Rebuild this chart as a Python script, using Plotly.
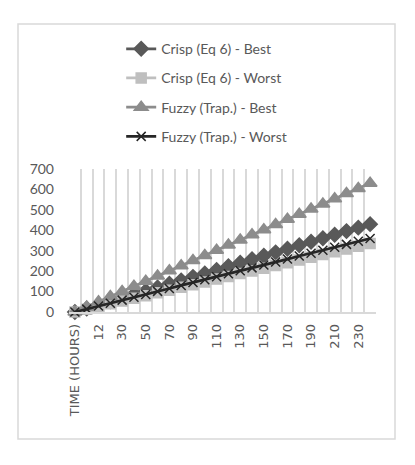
import plotly.graph_objects as go

# category labels (first cell is the header that Excel picked up)
hours = ["TIME (HOURS)", "6", "12", "20", "30", "40", "50", "60", "70", "80", "90",
         "100", "110", "120", "130", "140", "150", "160", "170", "180", "190",
         "200", "210", "220", "230", "240"]

crisp_best = [0, 17, 34, 52, 69, 86, 103, 120, 138, 155, 172, 189, 206, 224, 241,
              258, 275, 292, 310, 327, 344, 361, 378, 396, 413, 430]
crisp_worst = [0, 13, 27, 40, 54, 67, 80, 94, 107, 121, 134, 147, 161, 174, 188,
               201, 214, 228, 241, 255, 268, 281, 295, 308, 322, 335]
fuzzy_best = [0, 25, 50, 76, 101, 126, 151, 176, 202, 227, 252, 277, 302, 328, 353,
              378, 403, 428, 454, 479, 504, 529, 554, 580, 605, 630]
fuzzy_worst = [0, 14, 29, 43, 58, 72, 86, 101, 115, 130, 144, 158, 173, 187, 202,
               216, 230, 245, 259, 274, 288, 302, 317, 331, 346, 360]

series = [
    ("Crisp (Eq 6) - Best", crisp_best, "#595959", "diamond", 11),
    ("Crisp (Eq 6) - Worst", crisp_worst, "#bfbfbf", "square", 10),
    ("Fuzzy (Trap.) - Best", fuzzy_best, "#8c8c8c", "triangle-up", 12),
    ("Fuzzy (Trap.) - Worst", fuzzy_worst, "#262626", "x-thin", 9),
]

fig = go.Figure()
for i, (name, vals, col, sym, size) in enumerate(series):
    fig.add_trace(go.Scatter(
        x=hours, y=vals, name=name, mode="lines+markers", legendgroup=str(i),
        line=dict(color=col, width=2.75),
        marker=dict(symbol=sym, size=size, color=col, line=dict(color=col, width=1.5)),
        cliponaxis=False,
    ))

tick_text = [h if i % 2 == 0 else "" for i, h in enumerate(hours)]

fig.update_layout(
    width=415, height=465,
    margin=dict(l=69, r=39, t=169, b=153, autoexpand=False),
    paper_bgcolor="white", plot_bgcolor="white",
    font=dict(family="Lato, Open Sans, sans-serif", color="#595959", size=14),
    legend=dict(x=0.17, y=1.95, xanchor="left", yanchor="top",
                font=dict(size=14, color="#595959"), tracegroupgap=8,
                bgcolor="rgba(0,0,0,0)"),
    xaxis=dict(type="category", range=[-0.5, len(hours) - 0.5],
               tickmode="array", tickvals=hours, ticktext=tick_text,
               tickangle=-90, tickson="boundaries", showgrid=True, gridcolor="#d9d9d9",
               gridwidth=1.5, showline=True, linecolor="#d9d9d9", linewidth=1.5,
               ticks="", ticklabelstandoff=5,
               tickfont=dict(family="DejaVu Sans", size=13, color="#595959"),
               fixedrange=True),
    yaxis=dict(range=[0, 700], dtick=100, showgrid=False, zeroline=False,
               showline=False, ticks="", ticklabelstandoff=14,
               tickfont=dict(size=14, color="#595959")),
    shapes=[dict(type="rect", xref="paper", yref="paper",
                 x0=(18 - 69) / 307, x1=(395 - 69) / 307,
                 y0=(312 - 439) / 143, y1=(312 - 24) / 143,
                 line=dict(color="#d9d9d9", width=1.5), layer="below")],
)

fig.write_html("out.html", config={"displayModeBar": False},
               post_script="document.body.style.margin='0';")
